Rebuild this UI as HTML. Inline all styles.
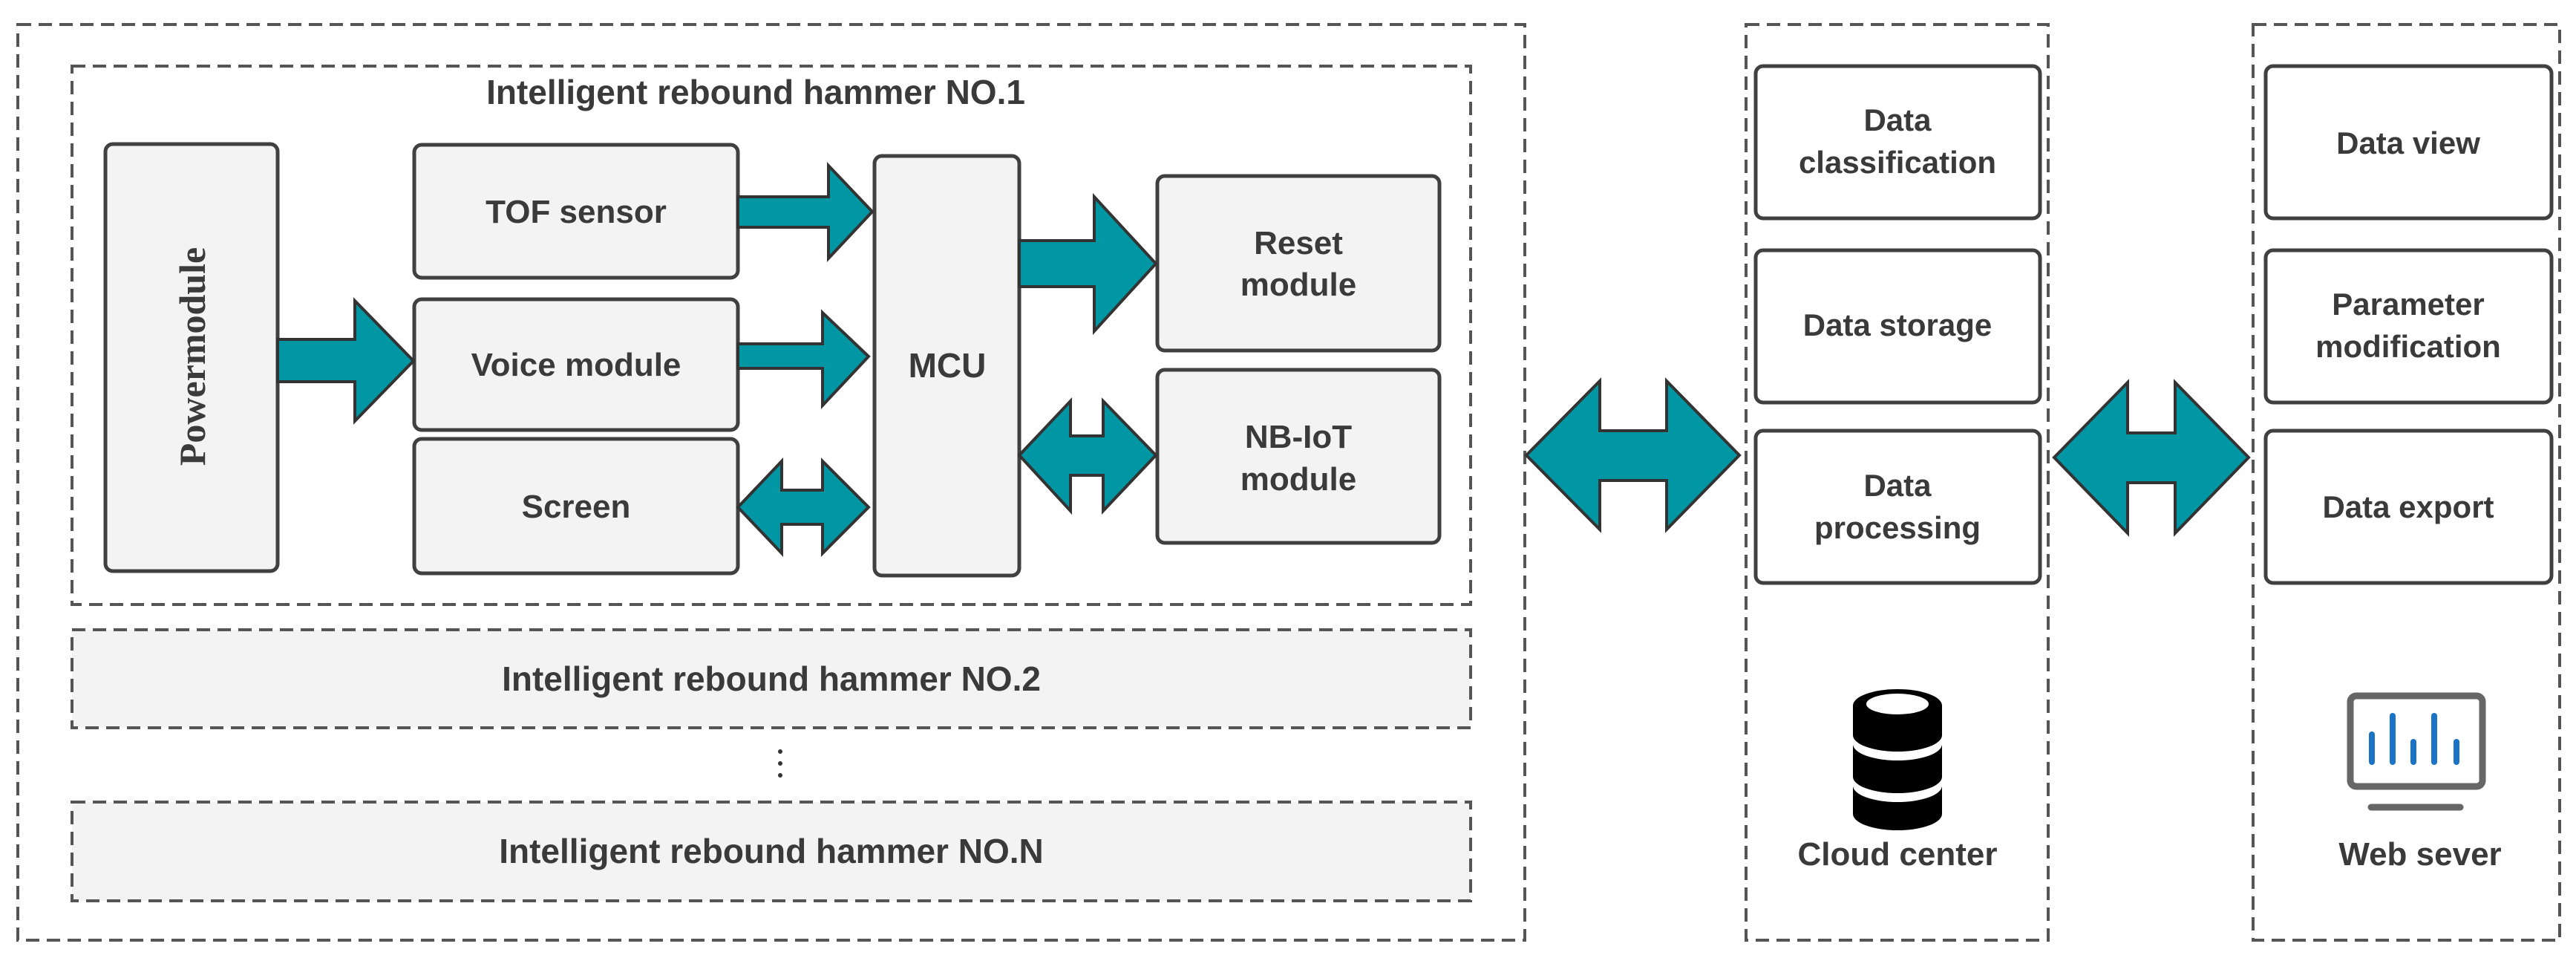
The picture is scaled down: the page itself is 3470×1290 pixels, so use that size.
<!DOCTYPE html>
<html><head><meta charset="utf-8"><style>
html,body{margin:0;padding:0;background:#fff;width:3470px;height:1290px;overflow:hidden}
svg{display:block}
text{font-family:"Liberation Sans",sans-serif;font-weight:bold;fill:#3a3a3a;text-anchor:middle}
</style></head><body>
<svg width="3470" height="1290" viewBox="0 0 3470 1290" xmlns="http://www.w3.org/2000/svg">
<g fill="none" stroke="#555" stroke-width="4" stroke-dasharray="18 10">
<rect x="24" y="33" width="2030" height="1233"/>
<rect x="97" y="89" width="1884" height="725"/>
<rect x="97" y="848" width="1884" height="132" fill="#f3f3f3"/>
<rect x="97" y="1080" width="1884" height="133" fill="#f3f3f3"/>
<rect x="2352" y="33" width="407" height="1233"/>
<rect x="3035" y="33" width="413" height="1233"/>
</g>
<g fill="#f3f3f3" stroke="#404040" stroke-width="5">
<rect x="142" y="194" width="232" height="575" rx="10"/>
<rect x="558" y="195" width="436" height="179" rx="10"/>
<rect x="558" y="403" width="436" height="176" rx="10"/>
<rect x="558" y="591" width="436" height="181" rx="10"/>
<rect x="1178" y="210" width="195" height="565" rx="10"/>
<rect x="1559" y="237" width="380" height="235" rx="10"/>
<rect x="1559" y="498" width="380" height="233" rx="10"/>
</g>
<g fill="#fff" stroke="#404040" stroke-width="5">
<rect x="2365" y="89" width="383" height="205" rx="10"/>
<rect x="2365" y="337" width="383" height="205" rx="10"/>
<rect x="2365" y="580" width="383" height="205" rx="10"/>
<rect x="3052" y="89" width="385" height="205" rx="10"/>
<rect x="3052" y="337" width="385" height="205" rx="10"/>
<rect x="3052" y="580" width="385" height="205" rx="10"/>
</g>
<g fill="#0096a3" stroke="#333" stroke-width="4" stroke-linejoin="miter">
<polygon points="374,457 478,457 478,405 557,486 478,567 478,514 374,514"/>
<polygon points="994,265 1116,265 1116,223 1175,285 1116,348 1116,306 994,306"/>
<polygon points="994,463 1108,463 1108,421 1170,480 1108,546 1108,496 994,496"/>
<polygon points="1373,324 1474,324 1474,265 1557,355 1474,446 1474,386 1373,386"/>
<polygon points="994,683 1053,621 1053,660 1108,660 1108,621 1170,683 1108,745 1108,706 1053,706 1053,745"/>
<polygon points="1373,613 1442,540 1442,587 1486,587 1486,540 1557,613 1486,688 1486,640 1442,640 1442,688"/>
<polygon points="2056,613 2155,513 2155,580 2245,580 2245,513 2343,613 2245,713 2245,647 2155,647 2155,713"/>
<polygon points="2767,616 2866,515 2866,583 2930,583 2930,515 3029,616 2930,718 2930,650 2866,650 2866,718"/>
</g>
<text x="1018" y="140" font-size="46">Intelligent rebound hammer NO.1</text>
<text x="1039" y="930" font-size="46">Intelligent rebound hammer NO.2</text>
<text x="1039" y="1162" font-size="46">Intelligent rebound hammer NO.N</text>
<g fill="#333"><circle cx="1051" cy="1012" r="3"/><circle cx="1051" cy="1028" r="3"/><circle cx="1051" cy="1044" r="3"/></g>
<text x="0" y="0" font-size="50" transform="translate(276,480) rotate(-90)" style="font-family:'Liberation Serif',serif">Powermodule</text>
<text x="776" y="300" font-size="44">TOF sensor</text>
<text x="776" y="506" font-size="44">Voice module</text>
<text x="776" y="697" font-size="44">Screen</text>
<text x="1276" y="508" font-size="46">MCU</text>
<text x="1749" y="342" font-size="44">Reset</text>
<text x="1749" y="398" font-size="44">module</text>
<text x="1749" y="603" font-size="44">NB-IoT</text>
<text x="1749" y="660" font-size="44">module</text>
<text x="2556" y="176" font-size="42">Data</text>
<text x="2556" y="233" font-size="42">classification</text>
<text x="2556" y="452" font-size="42">Data storage</text>
<text x="2556" y="668" font-size="42">Data</text>
<text x="2556" y="725" font-size="42">processing</text>
<text x="3244" y="207" font-size="42">Data view</text>
<text x="3244" y="424" font-size="42">Parameter</text>
<text x="3244" y="481" font-size="42">modification</text>
<text x="3244" y="697" font-size="42">Data export</text>
<text x="2556" y="1165" font-size="44">Cloud center</text>
<text x="3260" y="1165" font-size="44">Web sever</text>
<g>
<path d="M2496,950 a60,22 0 0 1 120,0 v40 a60,22 0 0 1 -120,0 z" fill="#000"/>
<ellipse cx="2556" cy="948" rx="42" ry="14" fill="#fff"/>
<path d="M2496,1002 a60,22 0 0 0 120,0 v44 a60,22 0 0 1 -120,0 z" fill="#000"/>
<path d="M2496,1058 a60,22 0 0 0 120,0 v38 a60,22 0 0 1 -120,0 z" fill="#000"/>
</g>
<g>
<rect x="3166" y="937" width="178" height="122" rx="8" fill="none" stroke="#666" stroke-width="9"/>
<line x1="3194" y1="1087" x2="3314" y2="1087" stroke="#666" stroke-width="9" stroke-linecap="round"/>
<g stroke="#1a73c4" stroke-width="8" stroke-linecap="round">
<line x1="3195" y1="989" x2="3195" y2="1026"/>
<line x1="3223" y1="964" x2="3223" y2="1026"/>
<line x1="3251" y1="999" x2="3251" y2="1026"/>
<line x1="3279" y1="964" x2="3279" y2="1026"/>
<line x1="3309" y1="999" x2="3309" y2="1026"/>
</g>
</g>
</svg>
</body></html>
